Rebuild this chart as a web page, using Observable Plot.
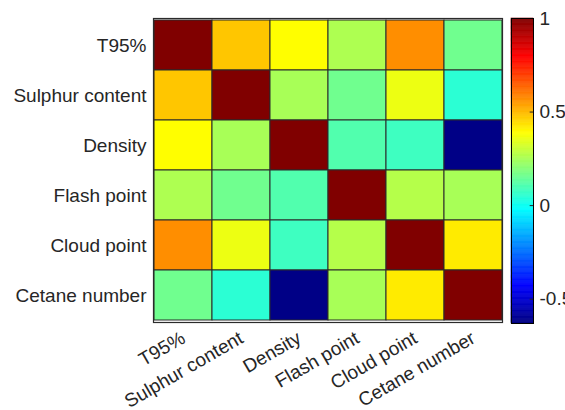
<!DOCTYPE html>
<html>
<head>
<meta charset="utf-8">
<script src="https://cdn.jsdelivr.net/npm/d3@7"></script>
<script src="https://cdn.jsdelivr.net/npm/@observablehq/plot@0.6"></script>
<style>
  html, body { margin: 0; padding: 0; background: #fff; }
  #wrap { position: relative; width: 565px; height: 410px; font-family: "Liberation Sans", Arial, sans-serif; overflow: hidden; }
  #main { position: absolute; left: 0; top: 0; }
  #bar { position: absolute; left: 505px; top: 0; }
</style>
</head>
<body>
<div id="wrap"><div id="main"></div><div id="bar"></div></div>
<script>
const variables = ["T95%", "Sulphur content", "Density", "Flash point", "Cloud point", "Cetane number"];
const rowT95      = [1.00, 0.48, 0.39, 0.26, 0.57, 0.16];
const rowSulphur  = [0.48, 1.00, 0.25, 0.16, 0.36, 0.05];
const rowDensity  = [0.39, 0.25, 1.00, 0.11, 0.08, -0.62];
const rowFlash    = [0.26, 0.16, 0.11, 1.00, 0.27, 0.25];
const rowCloud    = [0.57, 0.36, 0.08, 0.27, 1.00, 0.42];
const rowCetane   = [0.16, 0.05, -0.62, 0.25, 0.42, 1.00];
const colorTicks  = [-0.5, 0, 0.5, 1];
const colorMin = -0.63, colorMax = 1;

const rows = [rowT95, rowSulphur, rowDensity, rowFlash, rowCloud, rowCetane];
const cells = [];
rows.forEach((r, i) => r.forEach((v, j) => cells.push({row: variables[i], col: variables[j], value: v})));

function jet(t) {
  const c = x => Math.max(0, Math.min(1, x));
  const r = c(1.5 - Math.abs(4 * t - 3));
  const g = c(1.5 - Math.abs(4 * t - 2));
  const b = c(1.5 - Math.abs(4 * t - 1));
  return `rgb(${Math.round(r * 255)},${Math.round(g * 255)},${Math.round(b * 255)})`;
}
const colorOpts = {type: "linear", domain: [colorMin, colorMax], interpolate: jet};
const textColor = "#262626";

const main = Plot.plot({
  width: 510,
  height: 410,
  marginLeft: 153,
  marginRight: 8,
  marginTop: 18,
  marginBottom: 88,
  style: {fontFamily: "Liberation Sans, Arial, sans-serif", fontSize: "19px", color: textColor, background: "white"},
  x: {domain: variables, padding: 0, label: null, tickSize: 0, tickPadding: 14, tickRotate: -30},
  y: {domain: variables, padding: 0, label: null, tickSize: 0, tickPadding: 7},
  color: colorOpts,
  marks: [
    Plot.cell(cells, {x: "col", y: "row", fill: "value", stroke: "#2b2b2b", strokeWidth: 1, inset: 0}),
    Plot.frame({stroke: "#2b2b2b", strokeWidth: 1.2})
  ]
});
document.getElementById("main").appendChild(main);

const steps = d3.range(0, 256).map(i => {
  const a = colorMin + (colorMax - colorMin) * i / 256;
  const b = colorMin + (colorMax - colorMin) * (i + 1) / 256;
  return {y1: a, y2: b, v: (a + b) / 2};
});

const bar = Plot.plot({
  width: 60,
  height: 410,
  marginLeft: 6,
  marginRight: 32,
  marginTop: 18,
  marginBottom: 87,
  style: {fontFamily: "Liberation Sans, Arial, sans-serif", fontSize: "19px", color: textColor, background: "transparent", overflow: "visible"},
  x: {domain: [0, 1], axis: null},
  y: {domain: [colorMin, colorMax], axis: "right", ticks: colorTicks, tickFormat: d => String(d), tickSize: 0, tickPadding: 6, label: null},
  color: colorOpts,
  marks: [
    Plot.rectY(steps, {x1: 0, x2: 1, y1: "y1", y2: "y2", fill: "v", stroke: "v", strokeWidth: 0.6}),
    Plot.ruleY(colorTicks, {x1: 0.85, x2: 1, stroke: textColor}),
    Plot.frame({stroke: "#000", strokeWidth: 1})
  ]
});
document.getElementById("bar").appendChild(bar);
</script>
</body>
</html>
